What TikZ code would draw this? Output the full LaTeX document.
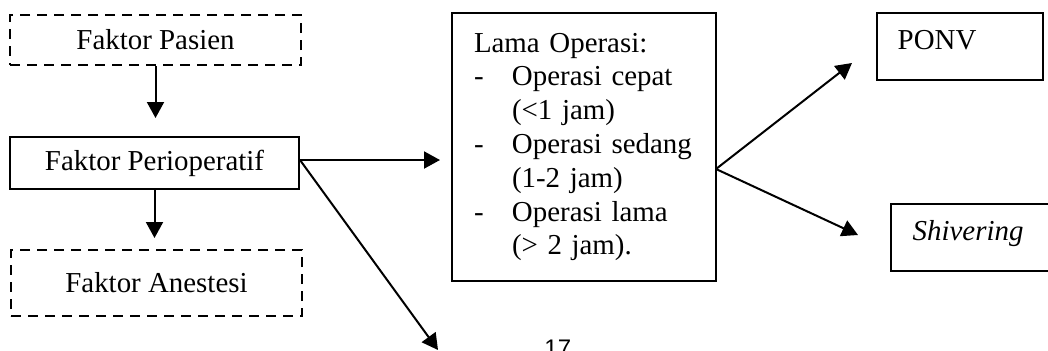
\documentclass[tikz,border=0pt]{standalone}
\usepackage{fontspec}
\setmainfont{Liberation Serif}
\setsansfont{Liberation Sans}
\usetikzlibrary{arrows.meta,calc}
\begin{document}
\begin{tikzpicture}[x=0.5pt,y=-0.5pt,
  every node/.style={font=\fontsize{14.45}{16.9}\selectfont},
  dbox/.style={draw, line width=1pt, dash pattern=on 5pt off 3.5pt, inner sep=0pt},
  sbox/.style={draw, line width=1pt, inner sep=0pt},
  tbox/.style={draw, line width=0.7pt, inner sep=0pt},
  arr/.style={line width=1pt, -{Triangle[length=8pt,width=8.5pt]}},
  line/.style={line width=1pt}]
\clip (0,0) rectangle (1048,350);
\useasboundingbox (0,0) rectangle (1048,350);
\fill[white] (0,0) rectangle (1048,350);

\node[dbox, minimum width=145.5pt, minimum height=25pt] (pasien) at (155.5,40) {Faktor Pasien};
\node[sbox, minimum width=144.5pt, minimum height=26pt] (perio) at (154.5,163) {Faktor Perioperatif};
\node[dbox, minimum width=145.5pt, minimum height=33pt] (anestesi) at (156.5,283) {Faktor Anestesi};

\node[sbox, minimum width=132pt, minimum height=134pt, text width=110pt, inner xsep=11pt, align=left] (lama) at (584,147)
  {Lama Operasi:\\
   \makebox[19pt][l]{-}Operasi cepat\\
   \hspace*{19pt}(<1 jam)\\
   \makebox[19pt][l]{-}Operasi sedang\\
   \hspace*{19pt}(1-2 jam)\\
   \makebox[19pt][l]{-}Operasi lama\\
   \hspace*{19pt}(> 2 jam).};

\node[tbox, minimum width=83pt, minimum height=33.5pt] (ponv) at (960,46.5) {};
\node[anchor=west, inner sep=0pt] (ponvtext) at ($(ponv.west)+(21,-6)$) {PONV};
\node[tbox, minimum width=100pt, minimum height=33.5pt] (shiver) at (991,237.5) {};
\node[anchor=west, inner sep=0pt] (shivertext) at ($(shiver.west)+(22,-4)$) {\itshape Shivering};

\node[anchor=north west, inner sep=0pt, font=\sffamily\fontsize{12}{14}\selectfont] (page) at (544,340) {17};

\coordinate (t1) at (155.5,118);
\coordinate (t2) at (154.5,238);
\coordinate (ps) at ($(perio.east)+(0,-3)$);
\coordinate (t3) at (440,160);
\coordinate (t4) at (438,350);
\coordinate (ls) at ($(lama.east)+(-1,22)$);
\coordinate (t5) at (852,63);
\coordinate (t6) at (858,235);

\draw[arr] (pasien.south) -- (t1);
\draw[arr] (perio.south) -- (t2);
\draw[arr] (ps) -- (t3);
\draw[arr] (ps) -- (t4);
\draw[arr] (ls) -- (t5);
\draw[arr] (ls) -- (t6);
\end{tikzpicture}
\end{document}
